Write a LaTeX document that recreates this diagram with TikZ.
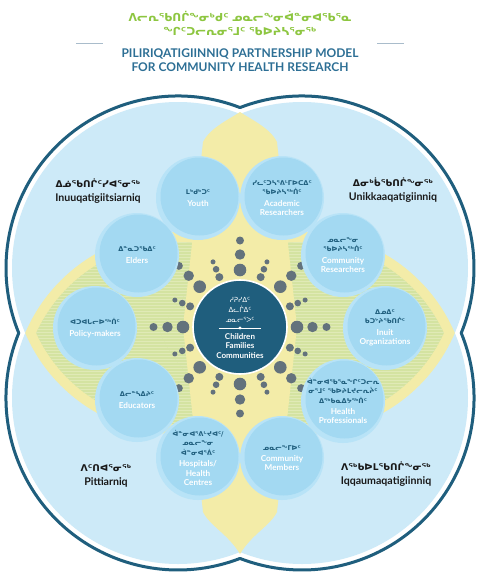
\documentclass[tikz,border=0pt]{standalone}
\usepackage{fontspec}
\setmainfont{Lato}
\newfontfamily\syl{DejaVu Sans}
\usetikzlibrary{calc}
\definecolor{bgblue}{HTML}{CDEAF8}
\definecolor{yel}{HTML}{F3ECA8}
\definecolor{grn}{HTML}{D4E3A1}
\definecolor{grnstripe}{HTML}{E0EAB6}
\definecolor{teal}{HTML}{1F5E7D}
\definecolor{titleblue}{HTML}{2D6F95}
\definecolor{titlegreen}{HTML}{8DC640}
\definecolor{circout}{HTML}{B8E3F7}
\definecolor{circin}{HTML}{A3D9F2}
\definecolor{dotgrey}{HTML}{63727C}
\definecolor{rulegrey}{HTML}{A9BCCB}
\tikzset{
  bigstroke/.style={draw=teal, line width=3pt, line cap=round},
  smallcirc/.style={circle, fill=circout, minimum size=84pt, inner sep=0pt},
  innercirc/.style={circle, fill=circin, minimum size=78pt, inner sep=0pt},
  circlabel/.style={align=center, inner sep=0pt, text=white, font=\fontsize{8.2}{9.4}\selectfont\bfseries},
  quadlabel/.style={align=center, inner sep=0pt, text=black!90, font=\fontsize{10.6}{13.5}\selectfont\bfseries},
  gdot/.style={fill=dotgrey},
}
\newcommand{\sy}[1]{{\syl\fontsize{6.6}{8.2}\selectfont\color{teal}#1}}
\newcommand{\smallc}[3]{%
  \node[smallcirc] (#1) at #2 {};
  \node[innercirc] (#1in) at ($(#1)+(1.5,-1.5)$) {};
  \node[circlabel] (#1txt) at (#1) {#3};}
\begin{document}
\begin{tikzpicture}[x=1pt,y=-1pt]
\useasboundingbox (0,0) rectangle (480,574);
\fill[white] (0,0) rectangle (480,574);
% big circles (four lobes)
\coordinate (TL) at (178,268);
\coordinate (TR) at (302,268);
\coordinate (BL) at (178,398);
\coordinate (BR) at (302,398);
\foreach \c in {TL,TR,BL,BR} \fill[bgblue] (\c) circle[radius=166];
% horizontal overlaps yellow
\begin{scope}
  \clip (TL) circle[radius=166];
  \fill[yel] (BL) circle[radius=166];
\end{scope}
\begin{scope}
  \clip (TR) circle[radius=166];
  \fill[yel] (BR) circle[radius=166];
\end{scope}
% green striped horizontal lenses
\begin{scope}
  \clip (TL) circle[radius=156];
  \clip (BL) circle[radius=156];
  \fill[grn] (0,200) rectangle (480,470);
  \foreach \yy in {200,203,...,470} \draw[grnstripe, line width=1pt] (0,\yy) -- (480,\yy);
\end{scope}
\begin{scope}
  \clip (TR) circle[radius=156];
  \clip (BR) circle[radius=156];
  \fill[grn] (0,200) rectangle (480,470);
  \foreach \yy in {200,203,...,470} \draw[grnstripe, line width=1pt] (0,\yy) -- (480,\yy);
\end{scope}
% central yellow column
\coordinate (ntop) at (240,112);
\coordinate (nbot) at (240,554);
\coordinate (cl) at (183,327);
\coordinate (cr) at (297,327);
\fill[yel] (ntop) .. controls (228,120) and (210,128) .. (203,142) -- (cl) -- (203,512)
  .. controls (210,526) and (228,534) .. (nbot) .. controls (252,534) and (270,526) .. (277,512)
  -- (cr) -- (277,142) .. controls (270,128) and (252,120) .. (ntop) -- cycle;
% outer strokes
\draw[bigstroke] (TL) ++(-68.9:172) arc[start angle=-68.9, end angle=-202.2, radius=172];
\draw[bigstroke] (BL) ++(-157.8:172) arc[start angle=-157.8, end angle=-291.1, radius=172];
\draw[bigstroke] (TR) ++(-111.1:172) arc[start angle=-111.1, end angle=22.2, radius=172];
\draw[bigstroke] (BR) ++(-22.2:172) arc[start angle=-22.2, end angle=111.1, radius=172];
% dots
\coordinate (C) at (240,327);
\foreach \a in {0,45,90,135,180,225,270,315}{
  \fill[gdot] (C) ++(-\a:57) circle[radius=6.3];
  \fill[gdot] (C) ++(-\a:72.5) circle[radius=5.2];
  \fill[gdot] (C) ++(-\a:86.5) circle[radius=4];}
\foreach \a in {22.5,67.5,112.5,157.5,202.5,247.5,292.5,337.5}{
  \fill[gdot] (C) ++(-\a:54) circle[radius=4];
  \fill[gdot] (C) ++(-\a:62.5) circle[radius=3.3];
  \fill[gdot] (C) ++(-\a:70.5) circle[radius=2.5];}
% small circles
\smallc{youth}{(198,198)}{\sy{ᒪᒃᑯᒃᑐᑦ}\\[2pt]Youth}
\smallc{acad}{(282,198)}{\sy{ᓯᓚᑦᑐᓴᕐᕕᒻᒥᐅᑕᐃᑦ}\\\sy{ᖃᐅᔨᓴᖅᑏᑦ}\\[2pt]Academic\\Researchers}
\smallc{elders}{(137,255)}{\sy{ᐃᓐᓇᑐᖃᐃᑦ}\\[2pt]Elders}
\smallc{comres}{(343,255)}{\sy{ᓄᓇᓕᖕᓂ}\\\sy{ᖃᐅᔨᓴᖅᑏᑦ}\\[2pt]Community\\Researchers}
\smallc{policy}{(95,328)}{\sy{ᐊᑐᐊᒐᓕᐅᖅᑏᑦ}\\[2pt]Policy-makers}
\smallc{inuit}{(385,328)}{\sy{ᐃᓄᐃᑦ}\\\sy{ᑲᑐᔾᔨᖃᑎᒌᑦ}\\[2pt]Inuit\\Organizations}
\smallc{educ}{(137,400)}{\sy{ᐃᓕᓐᓴᐃᔨᑦ}\\[2pt]Educators}
\smallc{healthp}{(343,401)}{\sy{ᐋᓐᓂᐊᖃᕐᓇᖏᑦᑐᓕᕆ}\\\sy{ᓂᕐᒧᑦ ᖃᐅᔨᒪᔪᓕᕆᔩᑦ}\\\sy{ᐃᖅᑲᓇᐃᔭᖅᑏᑦ}\\[2pt]Health\\Professionals}
\smallc{hosp}{(198,458)}{\sy{ᐋᓐᓂᐊᕐᕕᒡᔪᐊᑦ/}\\\sy{ᓄᓇᓕᖕᓂ}\\\sy{ᐋᓐᓂᐊᕐᕖᑦ}\\[2pt]Hospitals/\\Health\\Centres}
\smallc{commem}{(282,458)}{\sy{ᓄᓇᓕᖕᒥᐅᑦ}\\[2pt]Community\\Members}
% center circle
\node[circle, fill=teal, draw=white, line width=1.6pt, minimum size=94pt, inner sep=0pt] (ctr) at (C) {};
\node[align=center, inner sep=0pt, text=white, anchor=south, font=\syl\fontsize{7}{10}\selectfont] (ctrsyl) at (240,322.5) {ᓱᕈᓯᐃᑦ\\ᐃᓚᒌᐃᑦ\\ᓄᓇᓕᕐᐳᑦ};
\coordinate (sepL) at (219,328);
\coordinate (sepR) at (261,328);
\draw[white, line width=0.8pt] (sepL) -- (sepR);
\fill[white] (240,328) circle[radius=1.6];
\node[align=center, inner sep=0pt, text=white, anchor=north, font=\fontsize{8}{9.6}\selectfont\bfseries] (ctreng) at (240,333) {Children\\Families\\Communities};
% quadrant labels
\node[quadlabel] (qtl) at (98,191) {{\syl\fontsize{9.3}{11.5}\selectfont ᐃᓅᖃᑎᒌᑦᓯᐊᕐᓂᖅ}\\Inuuqatigiitsiarniq};
\node[quadlabel] (qtr) at (393,190) {{\syl\fontsize{9.3}{11.5}\selectfont ᐃᓂᒃᑳᖃᑎᒌᖕᓂᖅ}\\Unikkaaqatigiinniq};
\node[quadlabel] (qbl) at (106,476) {{\syl\fontsize{9.3}{11.5}\selectfont ᐱᑦᑎᐊᕐᓂᖅ}\\Pittiarniq};
\node[quadlabel] (qbr) at (386,474) {{\syl\fontsize{9.3}{11.5}\selectfont ᐱᖅᑲᐅᒪᖃᑎᒌᖕᓂᖅ}\\Iqqaumaqatigiinniq};
% title
\node[inner sep=0pt, text=titlegreen, font=\syl\bfseries\fontsize{11}{12}\selectfont] (tg1) at (240,16) {ᐱᓕᕆᖃᑎᒌᖕᓂᒃᑯᑦ ᓄᓇᓕᖕᓂᐋᓐᓂᐊᖃᕐᓇ};
\node[inner sep=0pt, text=titlegreen, font=\syl\bfseries\fontsize{11}{12}\selectfont] (tg2) at (240,31) {ᖏᑦᑐᓕᕆᓂᕐᒧᑦ ᖃᐅᔨᓴᕐᓂᖅ};
\coordinate (rl1) at (76,43.5);
\coordinate (rl2) at (103,43.5);
\coordinate (rr1) at (377,43.5);
\coordinate (rr2) at (404,43.5);
\draw[rulegrey, line width=1.3pt] (rl1) -- (rl2);
\draw[rulegrey, line width=1.3pt] (rr1) -- (rr2);
\node[inner sep=0pt, text=titleblue, font=\fontsize{12}{14}\selectfont\bfseries] (te1) at (240,53.5) {PILIRIQATIGIINNIQ PARTNERSHIP MODEL};
\node[inner sep=0pt, text=titleblue, font=\fontsize{12}{14}\selectfont\bfseries] (te2) at (240,67.5) {FOR COMMUNITY HEALTH RESEARCH};
\end{tikzpicture}
\end{document}
